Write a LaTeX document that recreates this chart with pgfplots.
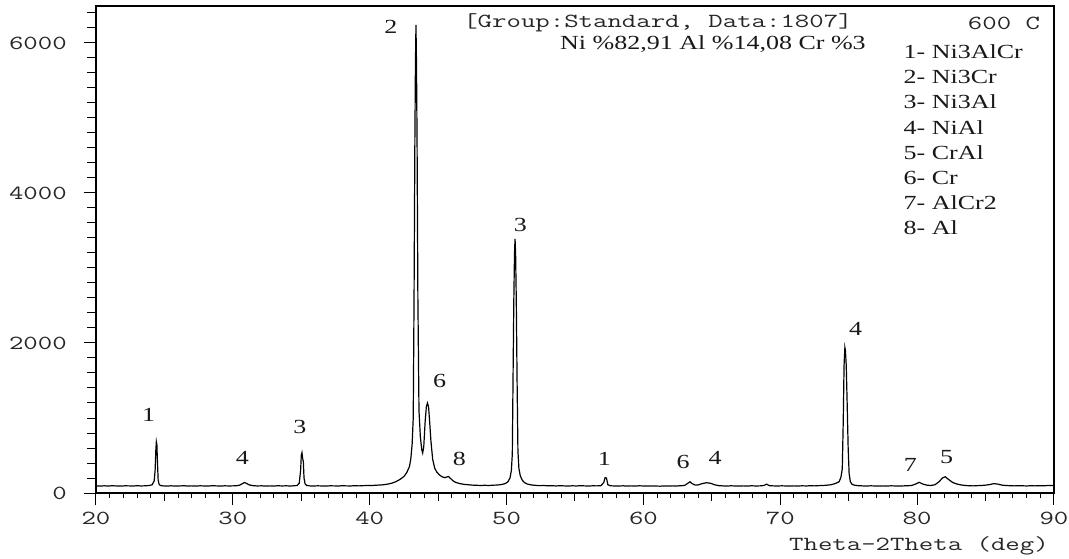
\documentclass[border=0pt]{standalone}
\usepackage{fontspec}
\setmainfont{Liberation Serif}
\usepackage{pgfplots}
\pgfplotsset{compat=1.18}
\usepackage{pgfplotstable}

\pgfplotstableread{
x y
20.0 95
20.3 92
20.6 96
20.9 93
21.2 97
21.5 94
21.8 92
22.1 96
22.4 95
22.7 93
23.0 97
23.3 94
23.6 96
23.9 100
24.1 110
24.25 160
24.32 300
24.37 560
24.41 683
24.45 640
24.49 420
24.54 180
24.6 120
24.7 100
24.9 95
25.2 93
25.5 96
25.8 92
26.1 94
26.4 97
26.7 93
27.0 95
27.3 92
27.6 96
27.9 94
28.2 93
28.5 97
28.8 95
29.1 92
29.4 96
29.7 94
30.0 95
30.3 98
30.5 105
30.7 125
30.85 140
31.0 128
31.2 108
31.5 97
31.8 94
32.1 96
32.4 92
32.7 95
33.0 93
33.3 97
33.6 94
33.9 96
34.2 93
34.5 97
34.7 100
34.85 130
34.95 300
35.0 500
35.05 537
35.1 460
35.15 420
35.2 200
35.28 120
35.4 100
35.6 95
35.9 93
36.2 96
36.5 94
36.8 92
37.1 96
37.4 95
37.7 93
38.0 97
38.3 95
38.6 94
38.9 97
39.2 95
39.5 98
39.8 100
40.1 99
40.4 103
40.7 106
41.0 110
41.3 118
41.6 130
41.9 150
42.2 180
42.5 220
42.7 270
42.9 350
43.0 450
43.1 650
43.18 1000
43.24 2600
43.3 4700
43.34 5700
43.38 6240
43.42 5700
43.46 4700
43.52 2600
43.6 1100
43.7 750
43.8 580
43.87 533
43.95 620
44.05 950
44.14 1150
44.22 1200
44.3 1150
44.38 950
44.47 700
44.6 450
44.75 330
44.9 280
45.1 240
45.3 215
45.5 205
45.65 215
45.75 220
45.9 195
46.1 160
46.3 140
46.6 125
46.9 115
47.2 110
47.5 105
47.8 103
48.1 100
48.4 103
48.7 100
49.0 104
49.3 106
49.6 112
49.9 125
50.1 150
50.25 200
50.35 300
50.42 520
50.47 1470
50.53 2570
50.58 3200
50.62 3387
50.66 3200
50.71 2570
50.77 1470
50.83 560
50.9 330
51.0 230
51.15 170
51.3 140
51.5 120
51.8 108
52.1 102
52.4 98
52.7 100
53.0 96
53.3 98
53.6 94
53.9 97
54.2 95
54.5 93
54.8 96
55.1 94
55.4 97
55.7 95
56.0 93
56.3 96
56.6 95
56.9 98
57.1 140
57.2 205
57.3 200
57.4 110
57.6 96
57.9 94
58.2 93
58.5 96
58.8 92
59.1 95
59.4 93
59.7 96
60.0 94
60.3 92
60.6 95
60.9 93
61.2 91
61.5 94
61.8 92
62.1 95
62.4 93
62.7 97
63.0 100
63.25 130
63.4 150
63.55 125
63.8 105
64.0 108
64.3 125
64.6 137
64.9 130
65.2 110
65.5 98
65.8 95
66.1 93
66.4 96
66.7 94
67.0 92
67.3 95
67.6 93
67.9 96
68.2 94
68.5 95
68.8 100
69.0 118
69.2 98
69.5 95
69.8 93
70.1 96
70.4 94
70.7 92
71.0 95
71.3 93
71.6 96
71.9 94
72.2 97
72.5 95
72.8 98
73.1 100
73.4 104
73.7 110
74.0 125
74.3 150
74.43 210
74.53 320
74.6 950
74.66 1700
74.72 1940
74.76 1900
74.82 1700
74.88 1250
74.96 600
75.03 260
75.12 150
75.25 115
75.45 103
75.7 98
76.0 95
76.3 93
76.6 96
76.9 94
77.2 92
77.5 95
77.8 93
78.1 96
78.4 94
78.7 92
79.0 95
79.3 97
79.6 100
79.9 120
80.15 143
80.4 120
80.7 105
81.0 100
81.3 110
81.6 150
81.85 200
82.05 217
82.3 180
82.6 140
82.9 120
83.2 108
83.5 100
83.8 97
84.1 95
84.4 98
84.7 100
85.0 105
85.3 112
85.6 125
85.9 118
86.2 105
86.5 100
86.8 97
87.1 95
87.4 98
87.7 96
88.0 94
88.3 97
88.6 95
88.9 98
89.2 96
89.5 99
89.8 100
90.0 102
}\xrd

\tikzset{
  lab/.style={font=\fontsize{20}{22}\selectfont, inner sep=0pt, xscale=1.3, text=black!90},
  ser/.style={font=\fontsize{20}{24}\selectfont, inner sep=0pt, xscale=1.3, text=black!90},
  mono/.style={font=\fontsize{20}{24}\selectfont\ttfamily, inner sep=0pt, xscale=1.4, text=black!85},
}

\begin{document}
\begin{tikzpicture}
\useasboundingbox (-96pt,-65pt) rectangle (973pt,493pt);
\begin{axis}[
  at={(0pt,0pt)}, anchor=south west,
  scale only axis, width=958pt, height=487pt,
  xmin=20, xmax=90, ymin=0, ymax=6493,
  clip=false,
  axis line style={line width=2pt, black},
  tick style={line width=1pt, black},
  tick align=outside, tick pos=left,
  major tick length=12pt, minor tick length=5pt,
  xtick={20,30,40,50,60,70,80,90},
  xticklabels={20,30,40,50,60,70,80,90},
  minor x tick num=9,
  extra x ticks={25,35,45,55,65,75,85},
  extra x tick labels={},
  extra x tick style={major tick length=8pt},
  ytick={0,2000,4000,6000},
  yticklabels={0,2000,4000,6000},
  extra y ticks={200,400,600,800,1000,1200,1400,1600,1800,2200,2400,2600,2800,3000,3200,3400,3600,3800,4200,4400,4600,4800,5000,5200,5400,5600,5800,6200,6400},
  extra y tick labels={},
  extra y tick style={major tick length=8.6pt},
  tick label style={mono},
  xticklabel style={anchor=north},
  yticklabel style={anchor=east},
  xticklabel shift=7pt,
  yticklabel shift=17pt,
  xlabel={Theta-2Theta (deg)},
  xlabel style={mono, at={(axis description cs:0.9948,-0.1088)}, anchor=east},
]
\addplot[black, line width=1.2pt, no markers] table {\xrd};

\node[lab] at (axis cs:23.85,1040) {1};
\node[lab] at (axis cs:30.7,463) {4};
\node[lab] at (axis cs:34.9,884) {3};
\node[lab] at (axis cs:41.55,6217) {2};
\node[lab] at (axis cs:45.1,1500) {6};
\node[lab] at (axis cs:46.55,450) {8};
\node[lab] at (axis cs:51.0,3570) {3};
\node[lab] at (axis cs:57.15,460) {1};
\node[lab] at (axis cs:62.9,418) {6};
\node[lab] at (axis cs:65.23,462) {4};
\node[lab] at (axis cs:75.5,2190) {4};
\node[lab] at (axis cs:79.5,373) {7};
\node[lab] at (axis cs:82.15,484) {5};

\node[mono, anchor=west] at (axis cs:46.82,6267) {[Group:Standard, Data:1807]};
\node[mono, anchor=east] at (axis cs:89.0,6267) {600 C};
\node[ser, anchor=east] at (axis cs:76.26,5987) {Ni \%82,91 Al \%14,08 Cr \%3};

\node[ser, anchor=west] at (axis cs:79.0,5884) {1- Ni3AlCr};
\node[ser, anchor=west] at (axis cs:79.0,5548) {2- Ni3Cr};
\node[ser, anchor=west] at (axis cs:79.0,5212) {3- Ni3Al};
\node[ser, anchor=west] at (axis cs:79.0,4876) {4- NiAl};
\node[ser, anchor=west] at (axis cs:79.0,4540) {5- CrAl};
\node[ser, anchor=west] at (axis cs:79.0,4204) {6- Cr};
\node[ser, anchor=west] at (axis cs:79.0,3868) {7- AlCr2};
\node[ser, anchor=west] at (axis cs:79.0,3532) {8- Al};
\end{axis}
\end{tikzpicture}
\end{document}
